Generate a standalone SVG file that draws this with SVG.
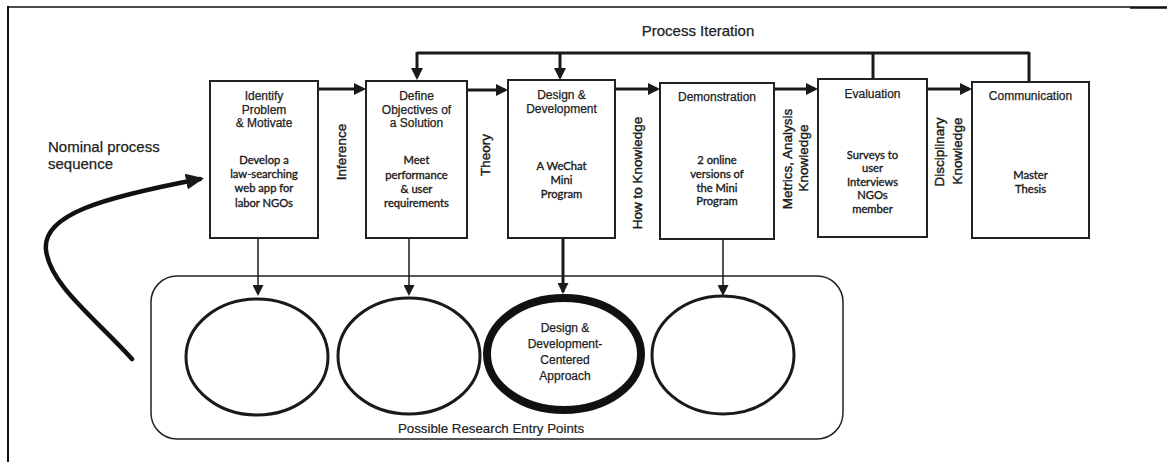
<svg xmlns="http://www.w3.org/2000/svg" width="1167" height="462" viewBox="0 0 1167 462">
<style>
.box{fill:#fff;stroke:#222;stroke-width:2}
.ttl{font-family:"Liberation Sans",Arial,sans-serif;font-size:12px;fill:#222;stroke:#222;stroke-width:0.25;text-anchor:middle}
.bdy{font-family:Lato,"Liberation Sans",sans-serif;font-size:11.2px;fill:#1a1a1a;stroke:#1a1a1a;stroke-width:0.35;text-anchor:middle}
.vl{font-family:"Liberation Sans",Arial,sans-serif;font-size:13.5px;fill:#1a1a1a;stroke:#1a1a1a;stroke-width:0.4;text-anchor:middle;dominant-baseline:central}
.big{font-family:"Liberation Sans",Arial,sans-serif;font-size:15px;fill:#222;stroke:#222;stroke-width:0.25}
.thick{stroke:#1a1a1a;stroke-width:3;fill:none}
.thin{stroke:#1a1a1a;stroke-width:1.5;fill:none}
.circ{fill:none;stroke:#1a1a1a;stroke-width:3}
</style>
<defs>
<marker id="ah" markerUnits="userSpaceOnUse" markerWidth="12" markerHeight="12" refX="9" refY="6" orient="auto"><path d="M0,0 L12,6 L0,12 z" fill="#1a1a1a"/></marker>
<marker id="ahs" markerUnits="userSpaceOnUse" markerWidth="11" markerHeight="11" refX="9" refY="5.5" orient="auto"><path d="M0,0 L11,5.5 L0,11 z" fill="#1a1a1a"/></marker>
<marker id="ahb" markerUnits="userSpaceOnUse" markerWidth="18" markerHeight="16" refX="14" refY="8" orient="auto"><path d="M0,0 L18,8 L0,16 z" fill="#1a1a1a"/></marker>
</defs>

<g id="frame" stroke="#111" fill="none">
<line x1="8" y1="7" x2="1130" y2="7" stroke-width="1.5"/>
<line x1="8" y1="6" x2="8" y2="462" stroke-width="2"/>
<line x1="1130" y1="7.5" x2="1167" y2="7.5" stroke-width="2.5"/>
</g>

<g id="connectors">
<line class="thick" x1="417" y1="53" x2="1029" y2="53"/>
<line class="thick" x1="417" y1="52" x2="417" y2="77" marker-end="url(#ah)"/>
<line class="thick" x1="560" y1="52" x2="560" y2="77" marker-end="url(#ah)"/>
<line class="thick" x1="873" y1="52" x2="873" y2="79"/>
<line class="thick" x1="1029" y1="52" x2="1029" y2="82"/>
<line class="thick" x1="318" y1="89" x2="363" y2="89" marker-end="url(#ah)"/>
<line class="thick" x1="467" y1="90" x2="505" y2="90" marker-end="url(#ah)"/>
<line class="thick" x1="615" y1="89" x2="657" y2="89" marker-end="url(#ah)"/>
<line class="thick" x1="774" y1="89" x2="815" y2="89" marker-end="url(#ah)"/>
<line class="thick" x1="927" y1="89" x2="969" y2="89" marker-end="url(#ah)"/>
<line class="thin" x1="258" y1="238" x2="258" y2="294" marker-end="url(#ahs)"/>
<line class="thin" x1="409" y1="238" x2="409" y2="294" marker-end="url(#ahs)"/>
<line class="thick" x1="563" y1="238" x2="563" y2="292" marker-end="url(#ahs)"/>
<line class="thin" x1="723" y1="239" x2="723" y2="294" marker-end="url(#ahs)"/>
<path d="M132,359 C95,318 50,285 46,250 C42,215 100,198 200,179" fill="none" stroke="#111" stroke-width="4.5" stroke-linecap="round" marker-end="url(#ahb)"/>
</g>

<g id="labels">
<text class="big" x="698" y="36" text-anchor="middle">Process Iteration</text>
<text class="big" x="48" y="152">Nominal process</text>
<text class="big" x="48" y="169">sequence</text>
<text class="vl" transform="translate(341,152) rotate(-90)" font-size="14.5">Inference</text>
<text class="vl" transform="translate(485,155) rotate(-90)">Theory</text>
<text class="vl" transform="translate(637,173) rotate(-90)">How to Knowledge</text>
<text class="vl" transform="translate(787,159) rotate(-90)">Metrics, Analysis</text>
<text class="vl" transform="translate(803,158) rotate(-90)">Knowledge</text>
<text class="vl" transform="translate(939,152) rotate(-90)">Disciplinary</text>
<text class="vl" transform="translate(957,151) rotate(-90)">Knowledge</text>
</g>

<g id="n1">
<rect class="box" x="210" y="81" width="108" height="157"/>
<text class="ttl" x="264" y="100">Identify</text>
<text class="ttl" x="264" y="113.5">Problem</text>
<text class="ttl" x="264" y="127">&amp; Motivate</text>
<text class="bdy" x="264" y="164">Develop a</text>
<text class="bdy" x="264" y="178">law-searching</text>
<text class="bdy" x="264" y="192">web app for</text>
<text class="bdy" x="264" y="207">labor NGOs</text>
</g>
<g id="n2">
<rect class="box" x="366" y="81" width="101" height="157"/>
<text class="ttl" x="416.5" y="100">Define</text>
<text class="ttl" x="416.5" y="113.5">Objectives of</text>
<text class="ttl" x="416.5" y="127">a Solution</text>
<text class="bdy" x="416.5" y="164">Meet</text>
<text class="bdy" x="416.5" y="179">performance</text>
<text class="bdy" x="416.5" y="193">&amp; user</text>
<text class="bdy" x="416.5" y="207">requirements</text>
</g>
<g id="n3">
<rect class="box" x="508" y="80" width="107" height="158"/>
<text class="ttl" x="561.5" y="99">Design &amp;</text>
<text class="ttl" x="561.5" y="113">Development</text>
<text class="bdy" x="561.5" y="170">A WeChat</text>
<text class="bdy" x="561.5" y="184">Mini</text>
<text class="bdy" x="561.5" y="198">Program</text>
</g>
<g id="n4">
<rect class="box" x="660" y="83" width="114" height="156"/>
<text class="ttl" x="717" y="101">Demonstration</text>
<text class="bdy" x="717" y="164">2 online</text>
<text class="bdy" x="717" y="178">versions of</text>
<text class="bdy" x="717" y="192">the Mini</text>
<text class="bdy" x="717" y="205">Program</text>
</g>
<g id="n5">
<rect class="box" x="818" y="79" width="109" height="158"/>
<text class="ttl" x="872.5" y="98">Evaluation</text>
<text class="bdy" x="872.5" y="159">Surveys to</text>
<text class="bdy" x="872.5" y="172">user</text>
<text class="bdy" x="872.5" y="186">Interviews</text>
<text class="bdy" x="872.5" y="199">NGOs</text>
<text class="bdy" x="872.5" y="213">member</text>
</g>
<g id="n6">
<rect class="box" x="972" y="82" width="117" height="156"/>
<text class="ttl" x="1030.5" y="100">Communication</text>
<text class="bdy" x="1030.5" y="179">Master</text>
<text class="bdy" x="1030.5" y="193">Thesis</text>
</g>

<g id="entry-points">
<rect x="151" y="276" width="692" height="163" rx="26" ry="26" fill="none" stroke="#222" stroke-width="1.5"/>
<text x="491" y="433" text-anchor="middle" font-family="Liberation Sans, Arial, sans-serif" font-size="13.3" fill="#222" stroke="#222" stroke-width="0.2">Possible Research Entry Points</text>
</g>
<g id="c1"><ellipse class="circ" cx="257" cy="357" rx="71" ry="58"/></g>
<g id="c2"><ellipse class="circ" cx="409" cy="356" rx="71" ry="58"/></g>
<g id="c3">
<ellipse cx="564" cy="354" rx="77" ry="56" fill="none" stroke="#111" stroke-width="8"/>
<text class="ttl" x="565" y="332" font-size="13">Design &amp;</text>
<text class="ttl" x="565" y="348" font-size="13">Development-</text>
<text class="ttl" x="565" y="364" font-size="13">Centered</text>
<text class="ttl" x="565" y="380" font-size="13">Approach</text>
</g>
<g id="c4"><ellipse class="circ" cx="723" cy="355" rx="71" ry="59"/></g>
</svg>
